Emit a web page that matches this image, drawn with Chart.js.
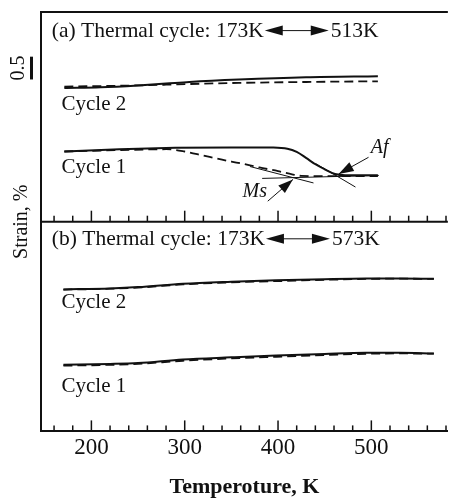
<!DOCTYPE html>
<html>
<head>
<meta charset="utf-8">
<script src="https://cdn.jsdelivr.net/npm/chart.js@4.4.0/dist/chart.umd.min.js"></script>
<style>
  html, body { margin: 0; padding: 0; background: #fff; }
  canvas { display: block; }
</style>
</head>
<body>
<canvas id="strain-chart" width="449" height="498"></canvas>
<script>
const SERIF = '"Liberation Serif", "Times New Roman", serif'
const INK = '#111'

// temperature axis (K) and tick labels
const tempMin = 146
const tempMax = 582
const tempStep = 20
const tempLabels = [200, 300, 400, 500]

// strain levels (%) are offset per curve so both panels share one axis
const strainMax = 9.2
const dividerLevel = 4.6
const scaleBar = [7.72, 8.22]   // 0.5 % bar

// (a) 173K <-> 513K, cycle 2
const tempA2 = [171, 210, 250, 280, 305, 358, 430, 507]
const a2Heat = [7.535, 7.55, 7.59, 7.63, 7.665, 7.717, 7.767, 7.789]
const a2Cool = [7.565, 7.575, 7.59, 7.605, 7.62, 7.645, 7.665, 7.68]

// (a) 173K <-> 513K, cycle 1
const tempA1Heat = [171, 230, 290, 350, 395, 410, 420, 430, 440, 450, 461, 472, 490, 507]
const a1Heat = [6.14, 6.19, 6.22, 6.23, 6.225, 6.2, 6.13, 6.0, 5.86, 5.75, 5.645, 5.62, 5.62, 5.62]
const tempA1Cool = [171, 230, 280, 300, 320, 340, 360, 380, 400, 415, 425, 450, 480, 507]
const a1Cool = [6.14, 6.17, 6.19, 6.14, 6.05, 5.96, 5.88, 5.79, 5.71, 5.64, 5.605, 5.6, 5.6, 5.6]

// construction lines for Ms / Af
const baseLine = [[383, 5.55], [508, 5.615]]
const msTangent = [[370, 5.81], [438, 5.45]]
const afTangent = [[440, 5.88], [483, 5.36]]
const msArrow = [[389, 5.05], [416, 5.528]]
const afArrow = [[497, 6.013], [465, 5.648]]
const msText = [375, 5.25]
const afText = [509, 6.224]

// (b) 173K <-> 573K
const tempB = [170, 220, 250, 298, 350, 398, 450, 494, 530, 567]
const b2Heat = [3.115, 3.137, 3.165, 3.239, 3.285, 3.317, 3.34, 3.354, 3.355, 3.348]
const b2Cool = [3.11, 3.13, 3.155, 3.224, 3.27, 3.296, 3.325, 3.345, 3.35, 3.345]
const b1Heat = [1.463, 1.48, 1.5, 1.578, 1.625, 1.665, 1.7, 1.724, 1.725, 1.709]
const b1Cool = [1.441, 1.46, 1.48, 1.55, 1.6, 1.637, 1.675, 1.702, 1.71, 1.705]

// panel headings and curve labels, anchored in data units (left edge, middle)
const headings = [
  { at: [157.6, 8.77], head: '(a) Thermal cycle: 173K', tail: '513K' },
  { at: [157.6, 4.203], head: '(b) Thermal cycle: 173K', tail: '573K' },
]
const cycleLabels = [
  { at: [168, 7.174], text: 'Cycle 2' },
  { at: [168, 5.796], text: 'Cycle 1' },
  { at: [168, 2.826], text: 'Cycle 2' },
  { at: [168, 0.978], text: 'Cycle 1' },
]

const pts = (xs, ys) => xs.map((x, i) => ({ x: x, y: ys[i] }))
const pairs = (arr) => arr.map(p => ({ x: p[0], y: p[1] }))

function curve(data, dashed) {
  return {
    data: data,
    borderColor: INK,
    borderWidth: dashed ? 1.8 : 2,
    borderDash: dashed ? [9, 5] : [],
    pointRadius: 0,
    fill: false,
    cubicInterpolationMode: 'monotone',
  }
}

function thin(data) {
  return {
    data: data,
    borderColor: INK,
    borderWidth: 1,
    pointRadius: 0,
    fill: false,
    tension: 0,
  }
}

function seg(ctx, x0, y0, x1, y1) {
  ctx.beginPath()
  ctx.moveTo(x0, y0)
  ctx.lineTo(x1, y1)
  ctx.stroke()
}

function arrowHead(ctx, fx, fy, tx, ty, len, half) {
  const ang = Math.atan2(ty - fy, tx - fx)
  const bx = tx - len * Math.cos(ang)
  const by = ty - len * Math.sin(ang)
  ctx.beginPath()
  ctx.moveTo(tx, ty)
  ctx.lineTo(bx + half * Math.sin(ang), by - half * Math.cos(ang))
  ctx.lineTo(bx - half * Math.sin(ang), by + half * Math.cos(ang))
  ctx.closePath()
  ctx.fill()
}

const panelDecor = {
  id: 'panelDecor',
  afterDatasetsDraw(chart) {
    const { ctx, chartArea } = chart
    const x = chart.scales.x
    const y = chart.scales.y
    const px = v => x.getPixelForValue(v)
    const py = v => y.getPixelForValue(v)
    ctx.save()
    ctx.strokeStyle = INK
    ctx.fillStyle = INK

    // top frame and the line between the two panels
    ctx.lineWidth = 2
    seg(ctx, chartArea.left - 1, chartArea.top, chartArea.right, chartArea.top)
    const yDiv = py(dividerLevel)
    seg(ctx, chartArea.left, yDiv, chartArea.right, yDiv)

    // inward ticks on both temperature axes
    ctx.lineWidth = 1.5
    x.ticks.forEach(t => {
      if (t.value % tempStep !== 0) return
      const tx = px(t.value)
      const len = t.value % 100 === 0 ? 11 : 6
      seg(ctx, tx, chartArea.bottom, tx, chartArea.bottom - len)
      seg(ctx, tx, yDiv, tx, yDiv - len)
    })

    // 0.5 % scale bar left of the axis
    ctx.lineWidth = 3
    const barX = chartArea.left - 9.5
    seg(ctx, barX, py(scaleBar[0]), barX, py(scaleBar[1]))
    ctx.save()
    ctx.translate(barX - 13, (py(scaleBar[0]) + py(scaleBar[1])) / 2)
    ctx.rotate(-Math.PI / 2)
    ctx.font = `20px ${SERIF}`
    ctx.textAlign = 'center'
    ctx.textBaseline = 'middle'
    ctx.fillText('0.5', 0, 0)
    ctx.restore()

    // headings with the double arrow between the two temperatures
    ctx.font = `21.5px ${SERIF}`
    ctx.textBaseline = 'middle'
    ctx.textAlign = 'left'
    headings.forEach(h => {
      const hx = px(h.at[0])
      const hy = py(h.at[1])
      ctx.fillText(h.head, hx, hy)
      const a0 = hx + ctx.measureText(h.head).width + 1
      const a1 = a0 + 64
      const ay = hy - 1
      ctx.lineWidth = 1
      seg(ctx, a0 + 10, ay, a1 - 10, ay)
      arrowHead(ctx, a1, ay, a0, ay, 18, 5)
      arrowHead(ctx, a0, ay, a1, ay, 18, 5)
      ctx.fillText(h.tail, a1 + 2, hy)
    })

    ctx.font = `21px ${SERIF}`
    cycleLabels.forEach(c => {
      ctx.fillText(c.text, px(c.at[0]), py(c.at[1]))
    })

    // Ms / Af pointers
    ctx.lineWidth = 1
    ;[msArrow, afArrow].forEach(a => {
      const fx = px(a[0][0]), fy = py(a[0][1])
      const tx = px(a[1][0]), ty = py(a[1][1])
      seg(ctx, fx, fy, tx, ty)
      arrowHead(ctx, fx, fy, tx, ty, 15, 5)
    })
    ctx.font = `italic 20px ${SERIF}`
    ctx.textAlign = 'center'
    ctx.fillText('Ms', px(msText[0]), py(msText[1]))
    ctx.fillText('Af', px(afText[0]), py(afText[1]))
    ctx.restore()
  }
}

new Chart(document.getElementById('strain-chart'), {
  type: 'line',
  data: {
    datasets: [
      curve(pts(tempA2, a2Heat), false),
      curve(pts(tempA2, a2Cool), true),
      curve(pts(tempA1Heat, a1Heat), false),
      curve(pts(tempA1Cool, a1Cool), true),
      curve(pts(tempB, b2Heat), false),
      curve(pts(tempB, b2Cool), true),
      curve(pts(tempB, b1Heat), false),
      curve(pts(tempB, b1Cool), true),
      thin(pairs(baseLine)),
      thin(pairs(msTangent)),
      thin(pairs(afTangent)),
    ],
  },
  options: {
    responsive: false,
    animation: false,
    devicePixelRatio: 1,
    layout: { padding: { top: 12, left: 6, right: 0, bottom: 0 } },
    plugins: {
      legend: { display: false },
      tooltip: { enabled: false },
    },
    scales: {
      x: {
        type: 'linear',
        min: tempMin,
        max: tempMax,
        ticks: {
          stepSize: tempStep,
          includeBounds: false,
          autoSkip: false,
          maxRotation: 0,
          padding: 3,
          color: INK,
          font: { family: SERIF, size: 23 },
          callback: v => tempLabels.includes(v) ? String(v) : '',
        },
        grid: { drawOnChartArea: false, drawTicks: false },
        border: { display: true, width: 2, color: INK },
        title: {
          display: true,
          text: 'Temperoture, K',
          color: INK,
          font: { family: SERIF, size: 22, weight: 'bold', lineHeight: 1 },
          padding: { top: 11, bottom: 0 },
        },
      },
      y: {
        min: 0,
        max: strainMax,
        ticks: { display: false },
        grid: { drawOnChartArea: false, drawTicks: false },
        border: { display: true, width: 2, color: INK },
        title: {
          display: true,
          text: 'Strain, %',
          color: INK,
          font: { family: SERIF, size: 20 },
          padding: { top: 4, bottom: 7 },
        },
      },
    },
  },
  plugins: [panelDecor],
})
</script>
</body>
</html>
